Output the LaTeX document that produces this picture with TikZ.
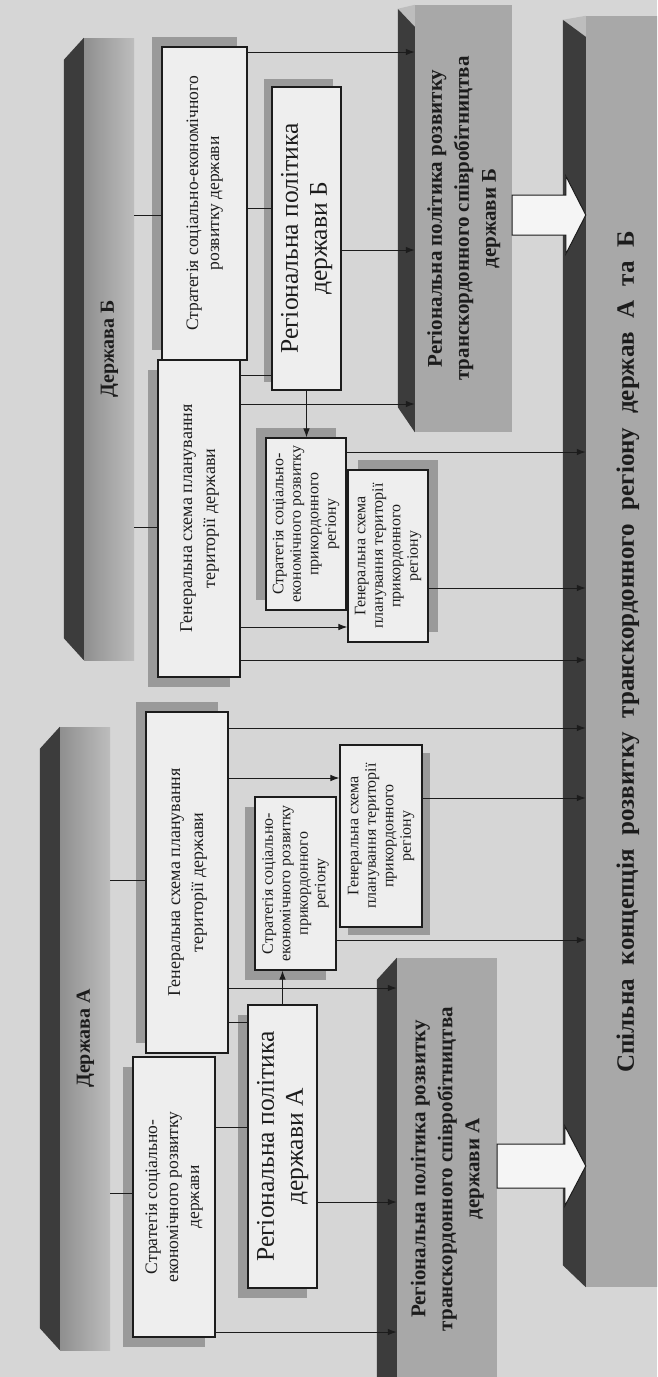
\documentclass[tikz,border=0pt]{standalone}
\usepackage{fontspec}
\setmainfont{Liberation Serif}
\usepackage{graphicx}
\usetikzlibrary{arrows.meta,calc,shadows}

\definecolor{bg}{HTML}{D6D6D6}
\definecolor{boxfill}{HTML}{EEEEEE}
\definecolor{shd}{HTML}{9A9A9A}
\definecolor{barfront}{HTML}{A8A8A8}
\definecolor{barlight}{HTML}{BDBDBD}
\definecolor{barside}{HTML}{3C3C3C}
\definecolor{ink}{HTML}{1C1C1C}

\newcommand\myrot[3]{\rotatebox{90}{\fontsize{#1}{#2}\selectfont\begin{tabular}{@{}c@{}}#3\end{tabular}}}

\tikzset{
  box/.style={draw=ink, line width=1.1pt, fill=boxfill, inner sep=0pt, text=ink},
  shUL/.style={drop shadow={shadow xshift=-10pt, shadow yshift=10pt, fill=shd, opacity=1}},
  shUL8/.style={drop shadow={shadow xshift=-8pt, shadow yshift=8pt, fill=shd, opacity=1}},
  shDL/.style={drop shadow={shadow xshift=-10pt, shadow yshift=-10pt, fill=shd, opacity=1}},
  shUR/.style={drop shadow={shadow xshift=10pt, shadow yshift=10pt, fill=shd, opacity=1}},
  shDR/.style={drop shadow={shadow xshift=8pt, shadow yshift=-8pt, fill=shd, opacity=1}},
  front/.style={fill=barfront, inner sep=0pt, text=ink},
  statefront/.style={inner sep=0pt, text=ink, left color=barfront!85!black, right color=barlight},
  side/.style={fill=barside},
  conn/.style={draw=ink, line width=1pt},
  arr/.style={conn, -{Latex[length=9pt,width=6.5pt]}},
  bigarrow/.style={draw=ink, line width=1pt, fill=white!96!black, line join=miter},
}

\begin{document}
\begin{tikzpicture}[x=1pt,y=-1pt]
\useasboundingbox (0,0) rectangle (657,1377);
\clip (0,0) rectangle (657,1377);
\fill[bg] (0,0) rectangle (657,1377);

% ---------- y levels ----------
\foreach \n/\v in {c1/215,c2/527,c3/52,c4/208,c5/375,c6/404,c7/250,c9/452,c10/627,c11/588,c12/660,
                   c13/880,c14/1193,c15/728,c16/778,c17/798,c18/940,c19/988,c20/1022,c22/1127,c23/1202,c24/1332,
                   bb1/195,bb2/235,bb3/176,bb4/254,bbm/215,
                   ba1/1144,ba2/1188,ba3/1126,ba4/1206,bam/1166}
  {\coordinate (y\n) at (0,\v);}

% ---------- state bars ----------
\node[statefront, minimum width=50pt, minimum height=622pt] (dB) at (109,349)
  {\myrot{20}{24}{\bfseries Держава Б}};
\fill[side] (dB.north west) -- ++(-20,22) -- ($(dB.south west)+(-20,-22)$) -- (dB.south west) -- cycle;

\node[statefront, minimum width=50pt, minimum height=623pt] (dA) at (85,1038.5)
  {\myrot{20}{24}{\bfseries Держава А}};
\fill[side] (dA.north west) -- ++(-20,22) -- ($(dA.south west)+(-20,-22)$) -- (dA.south west) -- cycle;

% ---------- cross-border policy bars ----------
\node[front, minimum width=97pt, minimum height=427pt] (tB) at (463.5,218.5)
  {\myrot{21}{27}{\bfseries Регіональна політика розвитку\\ \bfseries транскордонного співробітництва\\ \bfseries держави Б}};
\fill[barlight] ($(tB.north west)+(-17,4)$) -- (tB.north west) -- ($(tB.north west)+(0,22)$) -- cycle;
\fill[side] ($(tB.north west)+(-17,4)$) -- ($(tB.north west)+(0,22)$) -- (tB.south west) -- ($(tB.south west)+(-17,-25)$) -- cycle;

\node[front, minimum width=100pt, minimum height=422pt] (tA) at (447,1169)
  {\myrot{21}{27}{\bfseries Регіональна політика розвитку\\ \bfseries транскордонного співробітництва\\ \bfseries держави А}};
\fill[side] (tA.north west) -- ++(-20,22) -- ($(tA.south west)+(-20,0)$) -- (tA.south west) -- cycle;

% ---------- joint concept bar ----------
\node[front, minimum width=84pt, minimum height=1271pt] (sp) at (628,651.5)
  {\rotatebox{90}{\fontsize{25}{30}\selectfont\bfseries\makebox[842pt][s]{Спільна концепція розвитку транскордонного регіону держав А та Б}}};
\fill[barlight] ($(sp.north west)+(-23,4)$) -- (sp.north west) -- ($(sp.north west)+(0,21)$) -- cycle;
\fill[side] ($(sp.north west)+(-23,4)$) -- ($(sp.north west)+(0,21)$) -- (sp.south west) -- ($(sp.south west)+(-23,-22)$) -- cycle;

% ---------- boxes, state B ----------
\node[box, shUL, minimum width=85pt, minimum height=313pt] (sB) at (204.5,203.5)
  {\myrot{17.5}{21}{Стратегія соціально-економічного\\розвитку держави}};
\node[box, shDL, minimum width=82pt, minimum height=317pt] (gB) at (199,518.5)
  {\myrot{18}{23}{Генеральна схема планування\\території держави}};
\node[box, shUL8, minimum width=69pt, minimum height=303pt] (rB) at (306.5,238.5)
  {\myrot{25.5}{29}{Регіональна політика\\держави Б}};
\node[box, shUL, minimum width=80pt, minimum height=172pt] (spB) at (306,524)
  {\myrot{16}{17.5}{Стратегія соціально-\\економічного розвитку\\прикордонного\\регіону}};
\node[box, shUR, minimum width=80pt, minimum height=172pt] (gpB) at (388,556)
  {\myrot{16}{17.5}{Генеральна схема\\планування території\\прикордонного\\регіону}};

% ---------- boxes, state A ----------
\node[box, shUL, minimum width=82pt, minimum height=341pt] (gA) at (187,882.5)
  {\myrot{18}{23}{Генеральна схема планування\\території держави}};
\node[box, shDL, minimum width=82pt, minimum height=280pt] (sA) at (174,1197)
  {\myrot{17.5}{21}{Стратегія соціально-\\економічного розвитку\\держави}};
\node[box, shDL, minimum width=69pt, minimum height=283pt] (rA) at (282.5,1146.5)
  {\myrot{25.5}{29}{Регіональна політика\\держави А}};
\node[box, shDL, minimum width=81pt, minimum height=173pt] (spA) at (295.5,883.5)
  {\myrot{16}{17.5}{Стратегія соціально-\\економічного розвитку\\прикордонного\\регіону}};
\node[box, shDR, minimum width=82pt, minimum height=182pt] (gpA) at (381,836)
  {\myrot{16}{17.5}{Генеральна схема\\планування території\\прикордонного\\регіону}};

% ---------- connectors, state B ----------
\draw[conn] (dB.east |- yc1) -- (sB.west |- yc1);
\draw[conn] (dB.east |- yc2) -- (gB.west |- yc2);
\draw[arr]  (sB.east |- yc3) -- (tB.west |- yc3);
\draw[conn] (sB.east |- yc4) -- (rB.west |- yc4);
\draw[arr]  (rB.east |- yc7) -- (tB.west |- yc7);
\draw[conn] (gB.east |- yc5) -- (rB.west |- yc5);
\draw[arr]  (gB.east |- yc6) -- (tB.west |- yc6);
\draw[arr]  (rB.south) -- (rB.south |- spB.north);
\draw[arr]  (spB.east |- yc9) -- (sp.west |- yc9);
\draw[arr]  (gpB.east |- yc11) -- (sp.west |- yc11);
\draw[arr]  (gB.east |- yc10) -- (gpB.west |- yc10);
\draw[arr]  (gB.east |- yc12) -- (sp.west |- yc12);

% ---------- connectors, state A ----------
\draw[conn] (dA.east |- yc13) -- (gA.west |- yc13);
\draw[conn] (dA.east |- yc14) -- (sA.west |- yc14);
\draw[arr]  (gA.east |- yc15) -- (sp.west |- yc15);
\draw[arr]  (gA.east |- yc16) -- (gpA.west |- yc16);
\draw[arr]  (gpA.east |- yc17) -- (sp.west |- yc17);
\draw[arr]  (spA.east |- yc18) -- (sp.west |- yc18);
\draw[arr]  (gA.east |- yc19) -- (tA.west |- yc19);
\draw[conn] (gA.east |- yc20) -- (rA.west |- yc20);
\draw[arr]  (rA.north) -- (rA.north |- spA.south);
\draw[conn] (sA.east |- yc22) -- (rA.west |- yc22);
\draw[arr]  (rA.east |- yc23) -- (tA.west |- yc23);
\draw[arr]  (sA.east |- yc24) -- (tA.west |- yc24);

% ---------- big arrows to the joint concept ----------
\draw[bigarrow] (tB.east |- ybb1) -- ($(sp.west |- ybb1)+(-20,0)$) -- ($(sp.west |- ybb3)+(-20,0)$)
  -- (sp.west |- ybbm) -- ($(sp.west |- ybb4)+(-20,0)$) -- ($(sp.west |- ybb2)+(-20,0)$) -- (tB.east |- ybb2) -- cycle;
\draw[bigarrow] (tA.east |- yba1) -- ($(sp.west |- yba1)+(-21,0)$) -- ($(sp.west |- yba3)+(-21,0)$)
  -- (sp.west |- ybam) -- ($(sp.west |- yba4)+(-21,0)$) -- ($(sp.west |- yba2)+(-21,0)$) -- (tA.east |- yba2) -- cycle;
\end{tikzpicture}
\end{document}
